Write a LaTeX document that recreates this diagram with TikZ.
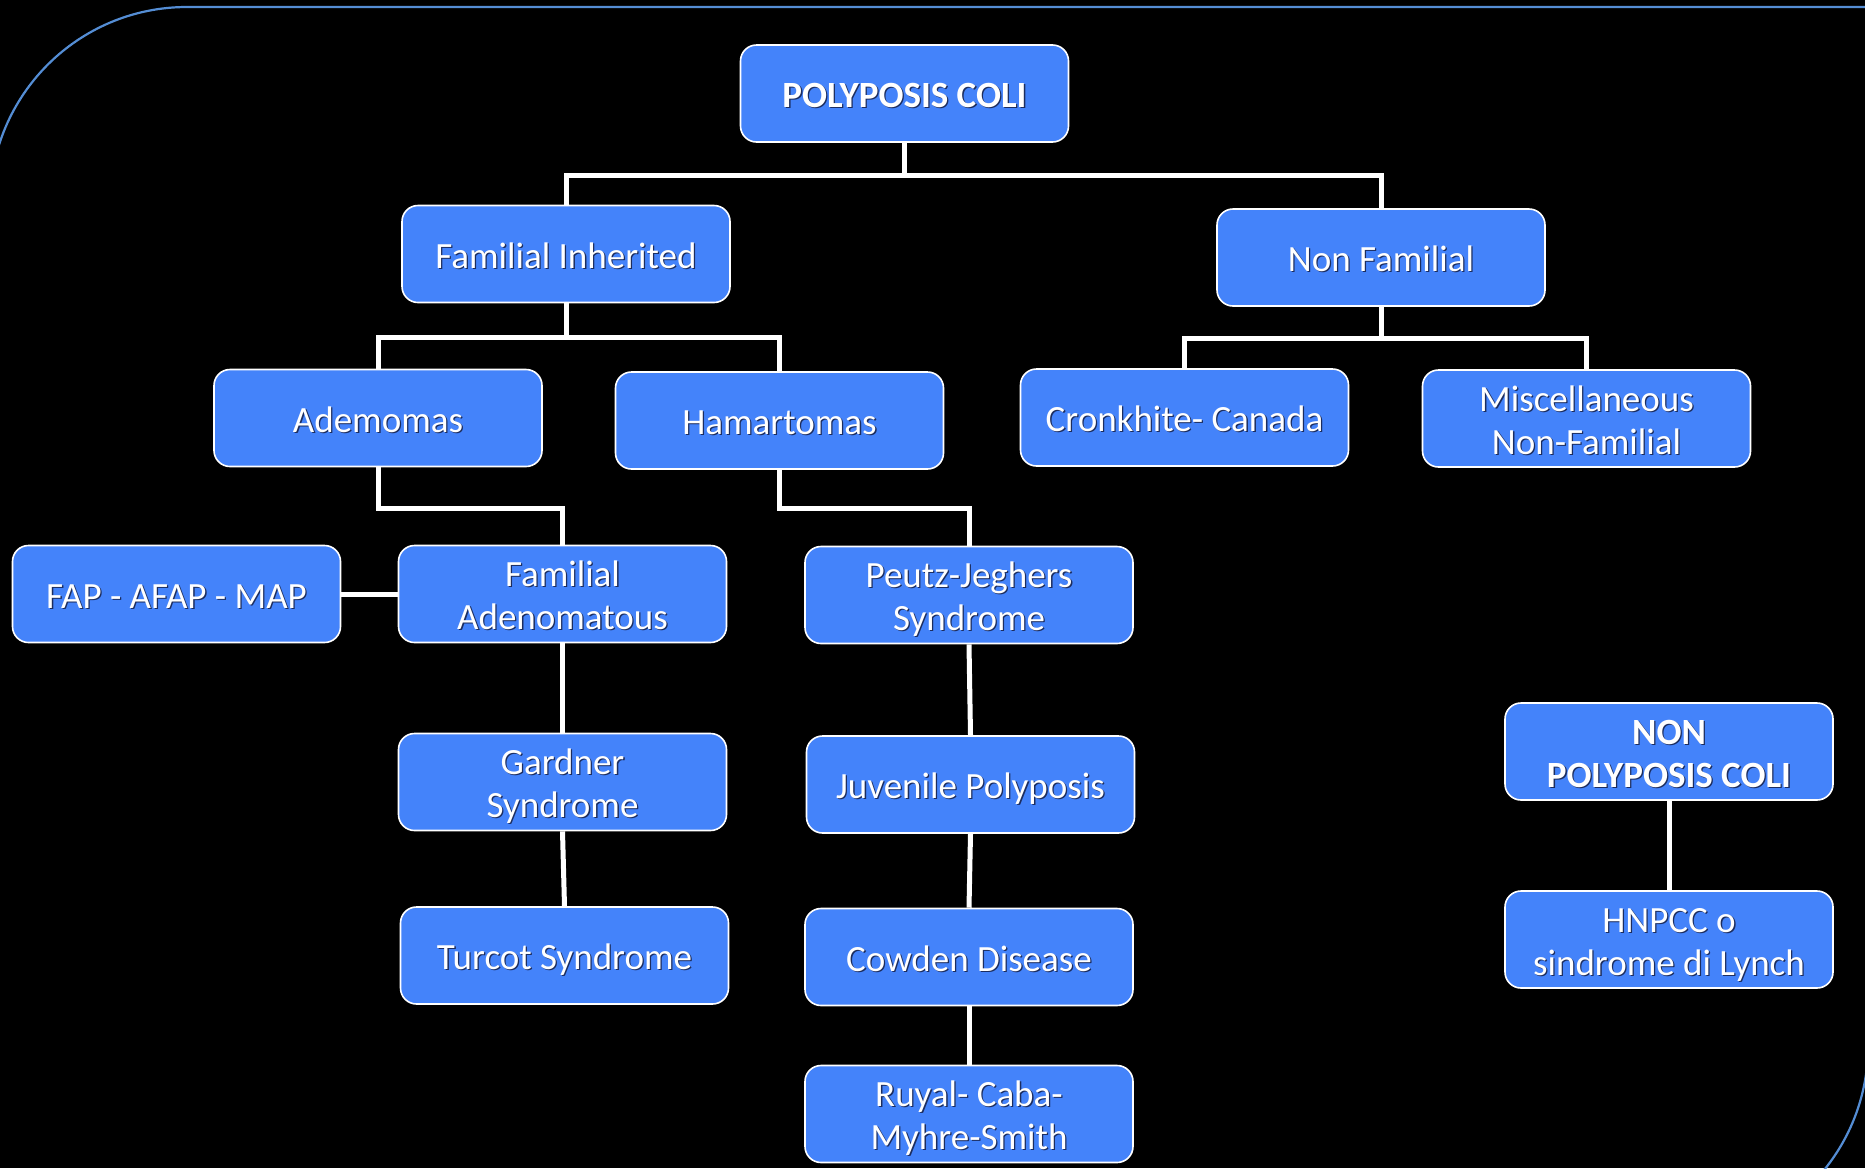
\documentclass[tikz,border=0pt]{standalone}
\usepackage{fontspec}
\setmainfont{Carlito}
\definecolor{boxblue}{RGB}{68,131,250}
\definecolor{framebl}{RGB}{84,141,212}
\definecolor{txshadow}{RGB}{28,45,95}
% Centred lines with fixed baseline placement and a soft drop shadow
\newcommand\tx[1]{%
  \setbox0=\vbox{\let\\\cr
    \halign{\hfil\vrule height29pt depth1pt width0pt##\hfil\cr#1\crcr}}%
  \dp0=1pt
  \setbox2=\hbox{\rlap{\color{txshadow}\kern1.3pt\lower1.3pt\copy0}\copy0}%
  \ht2=\ht0 \dp2=1pt \box2}
\pgfdeclarelayer{bg}
\pgfdeclarelayer{links}
\pgfsetlayers{bg,links,main}
\tikzset{
  box/.style={draw=white, line width=1.6pt, fill=boxblue, rounded corners=16pt,
    minimum width=328pt, minimum height=97pt, text=white,
    font=\fontsize{37}{43}\selectfont, inner sep=0pt},
  hbox/.style={box, font=\fontsize{37}{43}\selectfont\bfseries},
  link/.style={draw=white, line width=5pt}
}
\begin{document}
\begin{tikzpicture}[x=1pt,y=-1pt]
  \useasboundingbox (0,0) rectangle (1865,1168);
  \begin{pgfonlayer}{bg}
    \fill[black] (0,0) rectangle (1865,1168);
    % slide frame with two rounded diagonal corners
    \begin{scope}
      \clip (0,0) rectangle (1865,1168);
      \draw[framebl, line width=2.2pt]
        (-10,1243) -- (-10,204) arc[start angle=180, end angle=270, radius=197]
        -- (1868,7) -- (1868,1046) arc[start angle=0, end angle=90, radius=197]
        -- cycle;
    \end{scope}
  \end{pgfonlayer}

  % boxes
  \node[hbox] (pc) at (904.5,93.5) {\tx{POLYPOSIS COLI}};
  \node[box] (fi) at (566,254) {\tx{Familial Inherited}};
  \node[box] (nf) at (1381,257.5) {\tx{Non Familial}};
  \node[box] (ad) at (378,418) {\tx{Ademomas}};
  \node[box] (ha) at (779.5,420.5) {\tx{Hamartomas}};
  \node[box] (cc) at (1184.5,417.5) {\tx{Cronkhite- Canada}};
  \node[box] (mi) at (1586.5,418.5) {\tx{Miscellaneous\\Non-Familial}};
  \node[box] (fap) at (176.5,594) {\tx{FAP - AFAP - MAP}};
  \node[box] (fa) at (562.5,594) {\tx{Familial\\Adenomatous}};
  \node[box] (pj) at (969,595) {\tx{Peutz-Jeghers\\Syndrome}};
  \node[box] (gs) at (562.5,782) {\tx{Gardner\\Syndrome}};
  \node[box] (jp) at (970.5,784.5) {\tx{Juvenile Polyposis}};
  \node[box] (ts) at (564.5,955.5) {\tx{Turcot Syndrome}};
  \node[box] (cd) at (969,957) {\tx{Cowden Disease}};
  \node[box] (rc) at (969,1114) {\tx{Ruyal- Caba-\\Myhre-Smith}};
  \node[hbox] (np) at (1669,751.5) {\tx{NON\\POLYPOSIS COLI}};
  \node[box] (hn) at (1669,939.5) {\tx{HNPCC o\\sindrome di Lynch}};

  % levels of the elbow connectors
  \coordinate (j1) at (0,175);
  \coordinate (j2) at (0,337);
  \coordinate (j3) at (0,338);
  \coordinate (j4) at (0,508);

  % tree links, kept under the boxes
  \begin{pgfonlayer}{links}
    \path[link] (pc.south) -- (pc.south |- j1) -| (fi.north);
    \path[link] (pc.south |- j1) -| (nf.north);
    \path[link] (fi.south) -- (fi.south |- j2) -| (ad.north);
    \path[link] (fi.south |- j2) -| (ha.north);
    \path[link] (nf.south) -- (nf.south |- j3) -| (cc.north);
    \path[link] (nf.south |- j3) -| (mi.north);
    \path[link] (ad.south) -- (ad.south |- j4) -| (fa.north);
    \path[link] (ha.south) -- (ha.south |- j4) -| (pj.north);
    \path[link] (fap.east) -- (fa.west);
    \path[link] (fa.south) -- (gs.north);
    \path[link] (gs.south) -- (ts.north);
    \path[link] (pj.south) -- (jp.north);
    \path[link] (jp.south) -- (cd.north);
    \path[link] (cd.south) -- (rc.north);
    \path[link] (np.south) -- (hn.north);
  \end{pgfonlayer}
\end{tikzpicture}
\end{document}
